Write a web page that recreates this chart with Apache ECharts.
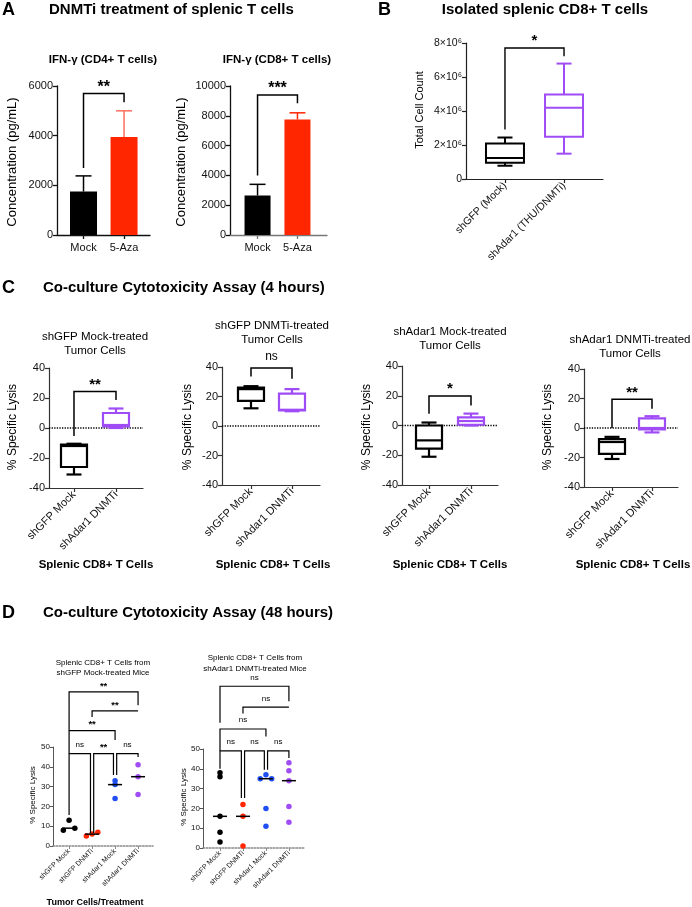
<!DOCTYPE html>
<html><head><meta charset="utf-8">
<script src="https://cdn.jsdelivr.net/npm/echarts@6/dist/echarts.min.js"></script>
<style>html,body{margin:0;padding:0;background:#fff}#c{width:692px;height:907px}</style>
</head><body><div id="c"></div><script>
// ===================== DATA =====================
// Panel A: IFN-gamma bars (mean + SD)
const aCategories = ['Mock', '5-Aza'];
const a1Means = [1750, 3950];
const a1SD = [630, 1050];
const a2Means = [2650, 7750];
const a2SD = [750, 450];
const a1YTicks = [0, 2000, 4000, 6000];
const a2YTicks = [0, 2000, 4000, 6000, 8000, 10000];
const a1Bracket = [[0, 1, 5700, 2700, 5350]];
const a2Bracket = [[0, 1, 9400, 4000, 8850]];
const a1Sig = ['**'];
const a2Sig = ['***'];

// Panel B: box plot [min, q1, median, q3, max]
const bCategories = ['shGFP (Mock)', 'shAdar1 (THU/DNMTi)'];
const bMockBox = [0.78e6, 0.96e6, 1.23e6, 2.09e6, 2.44e6];
const bAdarBox = [1.49e6, 2.48e6, 4.19e6, 4.97e6, 6.79e6];
const bYTicks = [0, 2e6, 4e6, 6e6, 8e6];
const bBracket = [[0, 1, 7.71e6, 2.91e6, 7.22e6]];
const bSig = ['*'];

// Panel C: box plots (4 h)
const cCategories = ['shGFP Mock', 'shAdar1 DNMTi'];
const cYTicks = [-40, -20, 0, 20, 40];
const c1Mock = [-31, -26, -12, -11, -10.5];
const c1Adar = [0, 1, 2, 10, 13];
const c2Mock = [12, 17, 25, 26, 27];
const c2Adar = [10, 10.5, 11, 22, 25];
const c3Mock = [-21, -15.5, -10, 0, 2];
const c3Adar = [0, 0.5, 3, 5.5, 8];
const c4Mock = [-21, -17.5, -9.5, -7.5, -6];
const c4Adar = [-3, -1, 0, 6.5, 8];
const c1Bracket = [[0, 1, 24.4, -5.3, 18.7]];
const c2Bracket = [[0, 1, 39.3, 33.6, 32]];
const c3Bracket = [[0, 1, 19.8, 7.9, 13.5]];
const c4Bracket = [[0, 1, 19.5, 0, 13]];
const c1Sig = ['**'], c2Sig = ['ns'], c3Sig = ['*'], c4Sig = ['**'];
const cSubtitles = ['shGFP Mock-treated\nTumor Cells', 'shGFP DNMTi-treated\nTumor Cells',
                    'shAdar1 Mock-treated\nTumor Cells', 'shAdar1 DNMTi-treated\nTumor Cells'];

// Panel D: scatter (48 h)
const dCategories = ['shGFP Mock', 'shGFP DNMTi', 'shAdar1 Mock', 'shAdar1 DNMTi'];
const dYTicks = [0, 10, 20, 30, 40, 50];
const d1ShGFPMock = [8, 9, 13];
const d1ShGFPDNMTi = [5, 6, 7];
const d1ShAdar1Mock = [33, 31, 24];
const d1ShAdar1DNMTi = [41, 35, 26];
const d2ShGFPMock = [38, 36, 16, 8, 3];
const d2ShGFPDNMTi = [22, 16, 1];
const d2ShAdar1Mock = [35, 37, 35, 20, 11];
const d2ShAdar1DNMTi = [43, 39, 34, 21, 13];
const d1Brackets = [[0, 1, 46.7, 15.7, 6.6], [1, 2, 46.7, 6.6, 35.9], [2, 3, 46.7, 35.9, 45],
                    [0, 2, 58.3, 46.7, 53.5], [1, 3, 68.2, 65.2, 68.2], [0, 3, 77.8, 58.3, 71.1]];
const d1Sigs = ['ns', '**', 'ns', '**', '**', '**'];
const d2Brackets = [[0, 1, 49.1, 40, 25.2], [1, 2, 49.1, 25.2, 39.5], [2, 3, 49.1, 39.5, 45.5],
                    [0, 2, 60.1, 49.1, 56.3], [1, 3, 71.1, 67.9, 71.1], [0, 3, 81.7, 63.3, 74.1]];
const d2Sigs = ['ns', 'ns', 'ns', 'ns', 'ns', 'ns'];

// ===================== STYLE / LAYOUT =====================
const FONT = '"Liberation Sans", Arial, Helvetica, sans-serif';
const BLACK = '#000000', RED = '#ff2600', PURPLE = '#9f4cf6', BLUE = '#1f4ff2';

const grids = [], xAxes = [], yAxes = [], series = [], graphics = [];

function addPanel(lay, cats, yTicks, st) {
  const gi = grids.length;
  grids.push({left: lay.left, top: lay.top, width: lay.width, height: lay.height,
              containLabel: false, outerBoundsMode: 'none'});
  const idx = cats.map((_, i) => i);
  xAxes.push({
    gridIndex: gi, type: 'value', min: lay.xMin, max: lay.xMax,
    axisLine: {show: true, onZero: false, lineStyle: {color: st.xLineColor || st.lineColor, width: st.xLineWidth || st.lineWidth, type: st.xLineType || 'solid'}},
    axisTick: {show: true, customValues: idx, length: st.tickLen, lineStyle: {color: st.xLineColor || st.lineColor, width: st.lineWidth}},
    axisLabel: {show: true, customValues: idx, formatter: v => cats[Math.round(v)] || '', rotate: st.rotate || 0,
                fontSize: st.xFont, fontFamily: FONT, color: '#111', margin: st.xMargin},
    splitLine: {show: false}
  });
  yAxes.push({
    gridIndex: gi, type: 'value', min: yTicks[0], max: yTicks[yTicks.length - 1], interval: yTicks[1] - yTicks[0],
    axisLine: {show: true, onZero: false, lineStyle: {color: st.lineColor, width: st.lineWidth}},
    axisTick: {show: true, length: st.tickLen, lineStyle: {color: st.lineColor, width: st.lineWidth}},
    axisLabel: {show: true, fontSize: st.yFont, fontFamily: FONT, color: '#111', margin: st.yMargin,
                formatter: st.yFmt || (v => String(v))},
    splitLine: {show: false}
  });
  return gi;
}

function addBars(gi, means, colors, barW) {
  series.push({type: 'bar', xAxisIndex: gi, yAxisIndex: gi, barWidth: barW, silent: true, z: 2,
    data: means.map((m, i) => ({value: [i, m], itemStyle: {color: colors[i]}}))});
}
function addErrorBars(gi, means, sds, colors, capW) {
  series.push({type: 'custom', xAxisIndex: gi, yAxisIndex: gi, clip: false, silent: true, z: 3,
    data: means.map((m, i) => [i, m, sds[i]]),
    renderItem: (params, api) => {
      const x = api.value(0), m = api.value(1), sd = api.value(2);
      const p0 = api.coord([x, m]), p1 = api.coord([x, m + sd]);
      const col = colors[params.dataIndex];
      return {type: 'group', children: [
        {type: 'line', shape: {x1: p0[0], y1: p0[1], x2: p1[0], y2: p1[1]}, style: {stroke: col, lineWidth: 1.5}},
        {type: 'line', shape: {x1: p1[0] - capW / 2, y1: p1[1], x2: p1[0] + capW / 2, y2: p1[1]}, style: {stroke: col, lineWidth: 1.5}}
      ]};
    }});
}
function addBoxes(gi, boxes, colors, boxW, capW, lw) {
  series.push({type: 'custom', xAxisIndex: gi, yAxisIndex: gi, clip: false, silent: true, z: 5,
    data: boxes.map((b, i) => [i].concat(b)),
    renderItem: (params, api) => {
      const x = api.value(0);
      const p = [1, 2, 3, 4, 5].map(k => api.coord([x, api.value(k)]));
      const cx = p[0][0], col = colors[params.dataIndex];
      const ls = {stroke: col, lineWidth: lw};
      return {type: 'group', children: [
        {type: 'line', shape: {x1: cx, y1: p[3][1], x2: cx, y2: p[4][1]}, style: ls},
        {type: 'line', shape: {x1: cx, y1: p[1][1], x2: cx, y2: p[0][1]}, style: ls},
        {type: 'line', shape: {x1: cx - capW / 2, y1: p[4][1], x2: cx + capW / 2, y2: p[4][1]}, style: ls},
        {type: 'line', shape: {x1: cx - capW / 2, y1: p[0][1], x2: cx + capW / 2, y2: p[0][1]}, style: ls},
        {type: 'rect', shape: {x: cx - boxW / 2, y: p[3][1], width: boxW, height: p[1][1] - p[3][1]}, style: {fill: '#fff', stroke: col, lineWidth: lw}},
        {type: 'line', shape: {x1: cx - boxW / 2, y1: p[2][1], x2: cx + boxW / 2, y2: p[2][1]}, style: ls}
      ]};
    }});
}
function adjustLegs(brs, off) {
  return brs.map(b => {
    const [x1, x2, yt, yl, yr] = b;
    const l = brs.some(o => o !== b && o[2] === yt && o[1] === x1) ? x1 + off : x1;
    const r = brs.some(o => o !== b && o[2] === yt && o[0] === x2) ? x2 - off : x2;
    return [l, r, yt, yl, yr];
  });
}
function addBrackets(gi, brs, labels, st) {
  series.push({type: 'custom', xAxisIndex: gi, yAxisIndex: gi, clip: false, silent: true, z: 10,
    data: brs,
    renderItem: (params, api) => {
      const v = [0, 1, 2, 3, 4].map(i => api.value(i));
      const a = api.coord([v[0], v[3]]), b = api.coord([v[0], v[2]]), c = api.coord([v[1], v[2]]), d = api.coord([v[1], v[4]]);
      const lab = labels[params.dataIndex];
      const star = lab.indexOf('*') >= 0;
      const fs = star ? st.starSize : st.nsSize;
      const ty = b[1] - st.gap + (star ? 0.22 : -0.1) * fs;
      return {type: 'group', children: [
        {type: 'polyline', shape: {points: [a, b, c, d]}, style: {stroke: '#000', lineWidth: st.lw, fill: 'none'}},
        {type: 'text', x: (b[0] + c[0]) / 2, y: ty,
         style: {text: lab, font: (star ? 'bold ' : '') + fs + 'px ' + FONT, fill: '#000',
                 textAlign: 'center', textVerticalAlign: 'middle', align: 'center', verticalAlign: 'middle'}}
      ]};
    }});
}
function addZeroLine(gi, lay) {
  series.push({type: 'line', xAxisIndex: gi, yAxisIndex: gi, symbol: 'none', silent: true, z: 1,
    data: [[lay.xMin, 0], [lay.xMax, 0]], lineStyle: {type: 'dotted', color: '#000', width: 1.3}});
}
function median(a) {
  const s = [...a].sort((x, y) => x - y), n = s.length;
  return n % 2 ? s[(n - 1) / 2] : (s[n / 2 - 1] + s[n / 2]) / 2;
}
function spread(vals, thr, step) {
  const offs = vals.map(() => 0), used = vals.map(() => false);
  for (let i = 0; i < vals.length; i++) {
    if (used[i]) continue;
    const cl = [i]; used[i] = true;
    let grew = true;
    while (grew) {
      grew = false;
      for (let j = 0; j < vals.length; j++) {
        if (!used[j] && cl.some(k => Math.abs(vals[k] - vals[j]) < thr)) { cl.push(j); used[j] = true; grew = true; }
      }
    }
    const n = cl.length;
    if (n > 1) cl.forEach((k, r) => { offs[k] = (r - (n - 1) / 2) * (n === 2 ? 2 : 1) * step; });
  }
  return offs;
}
function addDots(gi, groups, colors, size, halfLine) {
  groups.forEach((vals, g) => {
    const offs = spread(vals, 1.5, 0.25);
    series.push({type: 'scatter', xAxisIndex: gi, yAxisIndex: gi, silent: true, z: 4, symbolSize: size,
      itemStyle: {color: colors[g], opacity: 1}, data: vals.map((v, k) => [g + offs[k], v])});
  });
  series.push({type: 'custom', xAxisIndex: gi, yAxisIndex: gi, clip: false, silent: true, z: 6,
    data: groups.map((vals, g) => [g, median(vals)]),
    renderItem: (params, api) => {
      const p = api.coord([api.value(0), api.value(1)]);
      return {type: 'line', shape: {x1: p[0] - halfLine, y1: p[1], x2: p[0] + halfLine, y2: p[1]}, style: {stroke: '#000', lineWidth: 1.5}};
    }});
}
function txt(x, y, text, size, bold, align, rot, lh) {
  graphics.push({type: 'text', x: x, y: y, rotation: rot || 0, silent: true,
    style: {text: text, font: (bold ? 'bold ' : '') + size + 'px ' + FONT, fill: '#000',
            textAlign: align || 'left', textVerticalAlign: 'middle', lineHeight: lh || undefined}});
}

// ---- styles ----
const stA = {lineColor: '#111', lineWidth: 1.3, tickLen: 4, xFont: 11, yFont: 11, xMargin: 7, yMargin: 4};
const stB = {lineColor: '#222', lineWidth: 1.2, tickLen: 4, xFont: 10.5, yFont: 10.5, xMargin: 5, yMargin: 4, rotate: 45,
             yFmt: v => v === 0 ? '0' : (v / 1e6) + '×10⁶'};
const stC = {lineColor: '#333', lineWidth: 1.2, tickLen: 4, xFont: 11, yFont: 11, xMargin: 5, yMargin: 4, rotate: 45};
const stD = {lineColor: '#555', lineWidth: 1, tickLen: 3, xFont: 7, yFont: 8, xMargin: 4, yMargin: 3, rotate: 45,
             xLineColor: '#8a8a8a', xLineType: 'dotted', xLineWidth: 1.6};

const layA1 = {left: 57, top: 86, width: 93, height: 149, xMin: -0.654, xMax: 1.64};
const layA2 = {left: 230, top: 86, width: 97, height: 149, xMin: -0.69, xMax: 1.74};
const layB = {left: 466, top: 43, width: 137, height: 136, xMin: -0.66, xMax: 1.66};
const layC = [
  {left: 49, top: 368, width: 94, height: 120, xMin: -0.595, xMax: 1.643},
  {left: 222, top: 367, width: 98, height: 118, xMin: -0.707, xMax: 1.683},
  {left: 402, top: 366, width: 96, height: 119, xMin: -0.643, xMax: 1.643},
  {left: 584, top: 369, width: 94, height: 118, xMin: -0.7, xMax: 1.65}
];
const layD1 = {left: 53, top: 747, width: 100, height: 99, xMin: -0.7, xMax: 3.65};
const layD2 = {left: 203, top: 749, width: 102, height: 99, xMin: -0.74, xMax: 3.7};

// ---- Panel A ----
const gA1 = addPanel(layA1, aCategories, a1YTicks, stA);
addBars(gA1, a1Means, [BLACK, RED], 27);
addErrorBars(gA1, a1Means, a1SD, [BLACK, '#ff6f5c'], 16);
addBrackets(gA1, a1Bracket, a1Sig, {lw: 1.5, gap: 9.5, starSize: 16, nsSize: 12});
const gA2 = addPanel(layA2, aCategories, a2YTicks, Object.assign({}, stA, {xLineColor: '#777'}));
addBars(gA2, a2Means, [BLACK, RED], 26);
addErrorBars(gA2, a2Means, a2SD, [BLACK, RED], 16);
addBrackets(gA2, a2Bracket, a2Sig, {lw: 1.5, gap: 10, starSize: 16, nsSize: 12});

// ---- Panel B ----
const gB = addPanel(layB, bCategories, bYTicks, stB);
addBoxes(gB, [bMockBox, bAdarBox], [BLACK, PURPLE], 38, 15, 2);
addBrackets(gB, bBracket, bSig, {lw: 1.4, gap: 10, starSize: 15, nsSize: 12});

// ---- Panel C ----
const cBoxes = [[c1Mock, c1Adar], [c2Mock, c2Adar], [c3Mock, c3Adar], [c4Mock, c4Adar]];
const cBr = [c1Bracket, c2Bracket, c3Bracket, c4Bracket];
const cSg = [c1Sig, c2Sig, c3Sig, c4Sig];
layC.forEach((lay, k) => {
  const g = addPanel(lay, cCategories, cYTicks, stC);
  addZeroLine(g, lay);
  addBoxes(g, cBoxes[k], [BLACK, PURPLE], 26, 15, 2.2);
  addBrackets(g, cBr[k], cSg[k], {lw: 1.5, gap: 10, starSize: 15, nsSize: 12});
});

// ---- Panel D ----
const dColors = [BLACK, RED, BLUE, PURPLE];
const gD1 = addPanel(layD1, dCategories, dYTicks, stD);
addDots(gD1, [d1ShGFPMock, d1ShGFPDNMTi, d1ShAdar1Mock, d1ShAdar1DNMTi], dColors, 5.5, 7);
addBrackets(gD1, adjustLegs(d1Brackets, 0.07), d1Sigs, {lw: 1.2, gap: 8, starSize: 9.5, nsSize: 8});
const gD2 = addPanel(layD2, dCategories, dYTicks, stD);
addDots(gD2, [d2ShGFPMock, d2ShGFPDNMTi, d2ShAdar1Mock, d2ShAdar1DNMTi], dColors, 5.5, 7);
addBrackets(gD2, adjustLegs(d2Brackets, 0.07), d2Sigs, {lw: 1.2, gap: 8, starSize: 9.5, nsSize: 8});

// ---- Texts ----
txt(2, 10, 'A', 18, true);
txt(49, 10, 'DNMTi treatment of splenic T cells', 15, true);
txt(378, 10, 'B', 18, true);
txt(545, 10, 'Isolated splenic CD8+ T cells', 15, true, 'center');
txt(103, 60, 'IFN-γ (CD4+ T cells)', 11.5, true, 'center');
txt(277, 60, 'IFN-γ (CD8+ T cells)', 11.5, true, 'center');
txt(12, 162, 'Concentration (pg/mL)', 13, false, 'center', Math.PI / 2);
txt(181, 162, 'Concentration (pg/mL)', 13, false, 'center', Math.PI / 2);
txt(420, 110, 'Total Cell Count', 11, false, 'center', Math.PI / 2);

txt(2, 288, 'C', 18, true);
txt(43, 288, 'Co-culture Cytotoxicity Assay (4 hours)', 15, true);
const cSubPos = [[95, 344], [272, 333], [450, 339], [630, 347]];
cSubtitles.forEach((s, k) => txt(cSubPos[k][0], cSubPos[k][1], s, 11.5, false, 'center', 0, 14));
const cYT = [13, 188, 367, 548];
cYT.forEach(x => txt(x, 427, '% Specific Lysis', 12, false, 'center', Math.PI / 2));
const cXT = [96, 273, 450, 633];
cXT.forEach(x => txt(x, 565, 'Splenic CD8+ T Cells', 11.5, true, 'center'));

txt(2, 613, 'D', 18, true);
txt(43, 613, 'Co-culture Cytotoxicity Assay (48 hours)', 15, true);
txt(103, 668, 'Splenic CD8+ T Cells from\nshGFP Mock-treated Mice', 8, false, 'center', 0, 10);
txt(255, 663, 'Splenic CD8+ T Cells from\nshAdar1 DNMTi-treated Mice', 8, false, 'center', 0, 11);
txt(33, 795, '% Specific Lysis', 8, false, 'center', Math.PI / 2);
txt(184, 797, '% Specific Lysis', 8, false, 'center', Math.PI / 2);
txt(95, 903, 'Tumor Cells/Treatment', 9, true, 'center');

const chart = echarts.init(document.getElementById('c'), null, {renderer: 'canvas', width: 692, height: 907});
chart.setOption({
  animation: false,
  backgroundColor: '#fff',
  grid: grids, xAxis: xAxes, yAxis: yAxes, series: series,
  graphic: {elements: graphics}
});
</script></body></html>
